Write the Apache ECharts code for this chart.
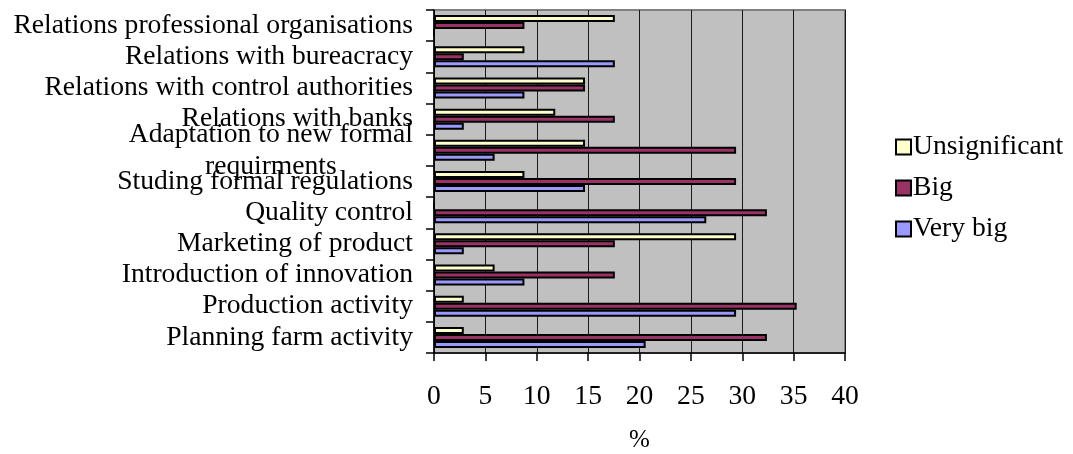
<!DOCTYPE html>
<html>
<head>
<meta charset="utf-8">
<script src="https://cdn.jsdelivr.net/npm/echarts@6/dist/echarts.min.js"></script>
<style>
  html, body { margin: 0; padding: 0; background: #fff; }
  #chart { width: 1073px; height: 454px; }
</style>
</head>
<body>
<div id="chart"></div>
<script>
// categories, top to bottom
const categories = [
  'Relations professional organisations',
  'Relations with bureacracy',
  'Relations with control authorities',
  'Relations with banks',
  'Adaptation to new formal requirments',
  'Studing formal regulations',
  'Quality control',
  'Marketing of product',
  'Introduction of innovation',
  'Production activity',
  'Planning farm activity'
];
const unsignificant = [17.6, 8.8, 14.7, 11.8, 14.7, 8.8, 0, 29.4, 5.9, 2.9, 2.9];
const big = [8.8, 2.9, 14.7, 17.6, 29.4, 29.4, 32.4, 17.6, 17.6, 35.3, 32.4];
const veryBig = [0, 17.6, 8.8, 2.9, 5.9, 14.7, 26.5, 2.9, 8.8, 29.4, 20.6];

const FONT = 'Liberation Serif';
const FS = 27.6;

// wrap long labels like Excel does, lines centred on each other
const measure = document.createElement('canvas').getContext('2d');
measure.font = FS + 'px "' + FONT + '"';
const wrapLabel = (text) => {
  const words = text.split(' ');
  const lines = [];
  let cur = '';
  words.forEach((w) => {
    const next = cur ? cur + ' ' + w : w;
    if (cur && measure.measureText(next).width > 410) {
      lines.push(cur);
      cur = w;
    } else {
      cur = next;
    }
  });
  lines.push(cur);
  return lines.map((l) => '{c|' + l + '}').join('\n');
};

const barStyle = (color) => ({
  color: color,
  borderColor: '#000',
  borderWidth: 2
});

const chart = echarts.init(document.getElementById('chart'));
chart.setOption({
  animation: false,
  textStyle: { fontFamily: FONT, color: '#000' },
  legend: {
    orient: 'vertical',
    left: 890,
    top: 128,
    itemWidth: 15,
    itemHeight: 15,
    itemGap: 13,
    icon: 'rect',
    data: ['Unsignificant', 'Big', 'Very big'],
    textStyle: { fontFamily: FONT, fontSize: FS, color: '#000', padding: [0, 0, 0, -3] }
  },
  grid: {
    left: 434,
    right: 228,
    top: 10,
    bottom: 101,
    outerBoundsMode: 'none',
    show: true,
    backgroundColor: '#c0c0c0',
    borderColor: '#808080',
    borderWidth: 2
  },
  xAxis: {
    type: 'value',
    min: 0,
    max: 40,
    interval: 5,
    name: '%',
    nameLocation: 'middle',
    nameGap: 75,
    nameTextStyle: { fontFamily: FONT, fontSize: 25, color: '#000' },
    axisLine: { show: true, lineStyle: { color: '#000', width: 1.5 } },
    axisTick: { show: true, length: 8, lineStyle: { color: '#000', width: 1.5 } },
    axisLabel: { fontFamily: FONT, fontSize: FS, color: '#000', margin: 30 },
    splitLine: { show: true, lineStyle: { color: '#1a1a1a', width: 1 } }
  },
  yAxis: {
    type: 'category',
    inverse: true,
    data: categories,
    axisLine: { show: true, lineStyle: { color: '#000', width: 1.5 } },
    axisTick: { show: true, length: 8, lineStyle: { color: '#000', width: 1.5 } },
    axisLabel: {
      margin: 21,
      formatter: wrapLabel,
      rich: {
        c: { align: 'center', fontFamily: FONT, fontSize: FS, lineHeight: 32, color: '#000' }
      }
    }
  },
  series: [
    {
      name: 'Unsignificant',
      type: 'bar',
      barWidth: 7,
      barGap: '0%',
      data: unsignificant,
      itemStyle: barStyle('#ffffcc')
    },
    {
      name: 'Big',
      type: 'bar',
      barWidth: 7,
      barGap: '0%',
      data: big,
      itemStyle: barStyle('#993366')
    },
    {
      name: 'Very big',
      type: 'bar',
      barWidth: 7,
      barGap: '0%',
      data: veryBig,
      itemStyle: barStyle('#9999ff')
    }
  ]
});
</script>
</body>
</html>
